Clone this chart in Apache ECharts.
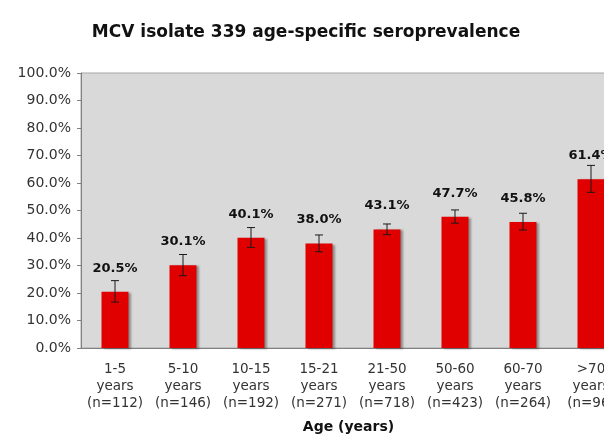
<!DOCTYPE html>
<html>
<head>
<meta charset="utf-8">
<script src="https://cdn.jsdelivr.net/npm/echarts@6/dist/echarts.min.js"></script>
<style>
  html, body { margin: 0; padding: 0; background: #fff; }
  #chart { width: 604px; height: 437px; }
</style>
</head>
<body>
<div id="chart"></div>
<script>
// age groups and sample sizes
var ageGroups = ['1-5', '5-10', '10-15', '15-21', '21-50', '50-60', '60-70', '>70'];
var sampleSizes = [112, 146, 192, 271, 718, 423, 264, 96];
// seroprevalence (%) and error bar ends
var prevalence = [20.5, 30.1, 40.1, 38.0, 43.1, 47.7, 45.8, 61.4];
var errLow  = [16.7, 26.3, 36.6, 35.0, 41.2, 45.4, 42.9, 56.6];
var errHigh = [24.5, 34.0, 43.8, 41.1, 45.1, 50.2, 49.0, 66.4];

var FONT = "'DejaVu Sans', Verdana, sans-serif";

var catLabels = ageGroups.map(function (g, i) {
  return g + '\nyears\n(n=' + sampleSizes[i] + ')';
});
var errData = ageGroups.map(function (g, i) { return [i, errLow[i], errHigh[i]]; });

var chart = echarts.init(document.getElementById('chart'));
chart.setOption({
  animation: false,
  title: {
    text: 'MCV isolate 339 age-specific seroprevalence',
    left: 301, top: 19, textAlign: 'center',
    textStyle: { fontFamily: FONT, fontSize: 17, fontWeight: 'bold', color: '#111' }
  },
  grid: {
    left: 81, top: 73, width: 544, height: 275,
    outerBoundsMode: 'none', containLabel: false,
    show: true, backgroundColor: '#d9d9d9', borderColor: '#a6a6a6', borderWidth: 1
  },
  xAxis: {
    type: 'category',
    data: catLabels,
    axisLine: { lineStyle: { color: '#808080' } },
    axisTick: { show: false },
    axisLabel: { fontFamily: FONT, fontSize: 13.5, color: '#333', lineHeight: 17, margin: 13, interval: 0 },
    name: 'Age (years)',
    nameLocation: 'middle',
    nameGap: 72,
    nameTextStyle: { fontFamily: FONT, fontSize: 14, fontWeight: 'bold', color: '#111', padding: [0, 9, 0, 0] }
  },
  yAxis: {
    type: 'value',
    min: 0, max: 100, interval: 10,
    axisLine: { show: true, lineStyle: { color: '#808080' } },
    axisTick: { show: true, length: 4, lineStyle: { color: '#808080' } },
    splitLine: { show: false },
    axisLabel: {
      fontFamily: FONT, fontSize: 14, color: '#333', margin: 10,
      formatter: function (v) { return v.toFixed(1) + '%'; }
    }
  },
  series: [
    {
      type: 'bar',
      data: prevalence,
      barWidth: 27,
      itemStyle: {
        color: '#e00000',
        shadowColor: 'rgba(0,0,0,0.35)', shadowOffsetX: 2, shadowOffsetY: 1, shadowBlur: 2
      },
      label: {
        show: true, position: 'top', distance: 17,
        fontFamily: FONT, fontSize: 13, fontWeight: 'bold', color: '#111',
        formatter: function (p) { return p.value.toFixed(1) + '%'; }
      }
    },
    {
      type: 'custom',
      data: errData,
      z: 5,
      renderItem: function (params, api) {
        var x = api.value(0);
        var lo = api.coord([x, api.value(1)]);
        var hi = api.coord([x, api.value(2)]);
        var cap = 4;
        var style = { stroke: '#1a1a1a', lineWidth: 1 };
        return {
          type: 'group',
          children: [
            { type: 'line', shape: { x1: lo[0], y1: lo[1], x2: hi[0], y2: hi[1] }, style: style },
            { type: 'line', shape: { x1: hi[0] - cap, y1: hi[1], x2: hi[0] + cap, y2: hi[1] }, style: style },
            { type: 'line', shape: { x1: lo[0] - cap, y1: lo[1], x2: lo[0] + cap, y2: lo[1] }, style: style }
          ]
        };
      }
    }
  ]
});
</script>
</body>
</html>
